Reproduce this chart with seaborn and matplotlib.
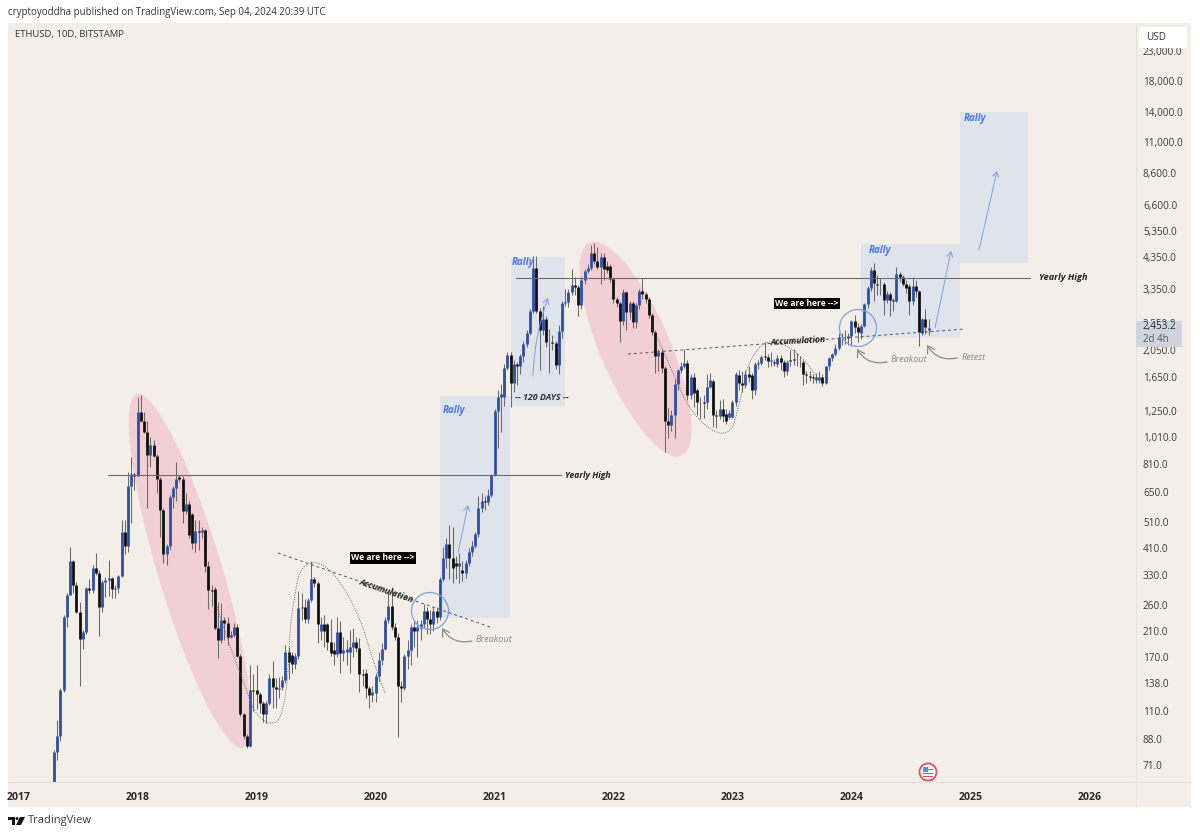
import matplotlib
matplotlib.use("Agg")
import matplotlib.pyplot as plt
from matplotlib.patches import Ellipse, Rectangle, Circle, FancyBboxPatch, Polygon
import numpy as np
import pandas as pd
import seaborn as sns

opens = [
55,79,90,130,236,281,371,305,245,197,
208,298,293,351,337,255,313,318,322,295,
298,328,470,417,680,750,740,1240,1155,1055,
875,945,870,722,561,393,417,620,670,730,
720,555,590,540,430,473,470,475,356,293,
295,216,195,230,225,200,204,218,172,107,
89.6,83,130,130,126,117,107,117,144,134,
131,134,141,177,173,161,172,254,256,232,
270,320,309,210,222,222,193,180,175,208,
176,177,177,185,192,183,148,150,132,125,
127,146,166,182,230,258,218,201,135,132,
171,180,218,210,215,222,248,232,222,248,
236,320,381,425,381,365,357,345,335,365,
398,420,460,570,600,595,630,745,1250,1395,
1400,1770,1970,1565,1830,1790,1950,2140,2350,2800,
3970,2800,2400,2620,2175,2190,2170,1815,2390,3000,
3020,3270,3460,3400,2950,3600,3870,3960,4500,4200,
4010,4350,4050,4050,3620,3082,3000,2580,3270,2790,
3000,2560,2940,3300,3230,3100,2720,2360,1955,2005,
1770,1150,1110,1205,1555,1735,1790,1848,1425,1637,
1480,1337,1340,1337,1519,1590,1205,1200,1270,1220,
1190,1190,1347,1670,1571,1545,1690,1670,1485,1820,
1840,1945,1925,1870,1850,1820,1910,1850,1730,1880,
1900,1860,1860,1860,1680,1660,1640,1610,1610,1637,
1571,1790,1910,1972,2070,2265,2280,2250,2290,2580,
2470,2345,2490,2960,3370,3900,3500,3480,3490,3060,
3210,3060,3040,3770,3680,3480,3420,3030,3420,3290,
2340,2620,2400]
closes = [
79,90,130,236,281,371,305,245,197,208,
298,293,351,337,255,313,318,322,295,298,
328,470,417,680,750,740,1240,1155,1055,875,
945,870,722,561,393,417,620,670,722,720,
555,590,458,430,473,470,475,356,293,290,
216,195,230,225,200,204,218,172,107,89.6,
83,130,129,126,117,107,117,144,134,131,
133,141,177,164,161,172,254,256,232,270,
320,309,222,222,210,193,176,175,208,176,
180,182,185,193,183,148,147,132,125,128,
146,166,182,230,258,218,201,135,132,171,
180,218,210,218,222,248,232,222,248,236,
320,381,425,381,350,357,365,335,365,398,
420,460,570,600,598,630,745,1250,1395,1430,
1770,1970,1565,1830,1790,1950,2140,2350,2800,3970,
2800,2400,2620,2175,2190,2170,1815,2390,3000,3020,
3270,3460,3400,2950,3600,3870,3960,4500,4200,4010,
4350,3950,3900,3620,3082,3000,2580,3270,2790,3000,
2560,2940,3300,3230,3080,2720,2360,1955,2005,1770,
1150,1110,1205,1555,1735,1790,1848,1425,1637,1440,
1337,1340,1335,1519,1600,1205,1195,1270,1195,1150,
1225,1347,1680,1571,1545,1690,1650,1485,1820,1840,
1925,1925,1870,1880,1840,1910,1850,1730,1850,1870,
1890,1850,1860,1680,1665,1650,1625,1637,1650,1571,
1790,1910,1972,2070,2265,2280,2270,2290,2580,2460,
2360,2490,2960,3370,3900,3520,3470,3490,3060,3210,
3060,3040,3770,3680,3480,3370,3030,3420,3290,2360,
2620,2470,2453]
highs = [
80,102,133,240,285,415,375,313,265,212,
300,320,360,395,345,318,325,375,325,305,
332,517,517,760,860,755,1400,1420,1240,1155,
1010,990,880,730,570,425,630,680,827,745,
735,640,600,545,515,515,487,480,370,305,
300,265,263,235,235,210,225,222,175,108,
91,159,149,160,128,119,119,148,165,144,
145,146,188,185,178,176,290,285,272,275,
370,325,315,235,240,225,232,193,235,228,
200,195,212,215,200,198,155,155,135,135,
150,178,190,235,290,300,225,206,140,175,
195,222,228,230,230,262,255,250,255,255,
325,415,445,495,488,385,395,370,375,410,
435,470,625,640,625,665,750,1265,1480,1550,
1830,2020,2020,1880,1860,1985,2200,2400,2850,4370,
4370,2880,2910,2700,2420,2300,2200,2500,3050,3343,
3350,3950,3700,3460,3700,3950,4100,4800,4850,4700,
4500,4500,4200,4100,3650,3150,3050,3350,3300,3050,
3050,3000,3350,3650,3280,3150,2750,2400,2060,2060,
1800,1280,1260,1620,1760,1850,2054,1880,1680,1700,
1500,1400,1420,1680,1695,1620,1260,1360,1370,1270,
1260,1360,1710,1740,1720,1740,1790,1700,1860,1890,
1960,2175,1980,2020,1900,1960,1970,1880,1890,2040,
2054,2000,1950,1880,1720,1720,1690,1700,1730,1680,
1800,1930,2000,2140,2340,2340,2400,2340,2600,2720,
2550,2520,3000,3420,3990,4130,3750,3650,3560,3300,
3270,3120,3990,3850,3750,3600,3500,3700,3600,3330,
2640,2842,2620]
lows = [
50,74,86,128,217,281,285,243,135,181,
205,285,285,330,202,245,276,280,274,274,
285,325,393,398,505,659,735,1140,1045,570,
790,860,640,450,365,360,405,570,600,700,
505,540,445,408,400,405,447,340,251,258,
212,169,190,195,187,198,200,170,106,88,
81.5,82,110,112,108,101,100,115,113,113,
122,130,138,143,150,155,168,230,225,225,
265,300,190,195,185,180,172,160,170,150,
165,160,150,170,178,128,135,122,113,118,
118,140,160,180,225,212,195,89,118,130,
155,160,185,170,195,215,205,205,210,225,
230,315,350,320,310,320,310,315,322,355,
385,410,450,550,560,585,620,735,925,1050,
1295,1740,1290,1450,1545,1680,1850,2100,2300,2750,
2750,1740,2300,2100,1700,2050,1750,1680,2250,2910,
2900,3200,3200,2700,2860,3500,3800,3900,4100,3950,
3480,3600,3800,3550,3000,2900,2175,2500,2400,2630,
2450,2450,2850,3100,3000,2650,2300,1700,1720,1700,
893,1005,1060,1005,1480,1700,1770,1360,1380,1285,
1210,1170,1180,1270,1500,1092,1090,1170,1140,1120,
1170,1180,1300,1480,1450,1500,1580,1380,1420,1750,
1810,1880,1780,1800,1790,1780,1740,1640,1670,1800,
1810,1800,1780,1545,1570,1590,1560,1570,1560,1530,
1550,1740,1870,1950,2050,2130,2150,2130,2105,2350,
2190,2230,2460,2880,3300,3050,3180,3200,2720,2980,
2700,2800,3020,3550,3420,3250,2720,2950,3150,2110,
2300,2330,2300]

year_labels = ["2017", "2018", "2019", "2020", "2021", "2022", "2023", "2024", "2025", "2026"]
year_bars = [-11, 26, 63, 100, 137, 174, 211, 248, 285, 322]
price_ticks = [71, 88, 110, 138, 170, 210, 260, 330, 410, 510, 650, 810, 1010, 1250, 1650,
               2050, 2550, 3350, 4350, 5350, 6600, 8600, 11000, 14000, 18000, 23000]

BG = "#f3efe8"
BLUE = "#2f4fa6"
BLACK = "#111111"
WICK = "#6a6a6a"
RECT = "#dfe3ec"
PINK = "#f2cfd4"
LINE = "#6f6b66"
ARROW = "#7f9fe0"
GREY = "#8b8b8b"
FONT = "Open Sans"

sns.set_theme(style="white")
plt.rcParams["font.family"] = [FONT, "DejaVu Sans"]

fig = plt.figure(figsize=(12, 8.36), dpi=100, facecolor="white")


def pixel_axes(zorder):
    a = fig.add_axes([0, 0, 1, 1], zorder=zorder)
    a.set_xlim(0, 1200)
    a.set_ylim(836, 0)
    a.axis("off")
    a.patch.set_visible(False)
    return a


def smooth(points, steps=12):
    """Catmull-Rom curve through hand-placed drawing anchors."""
    p = np.array(points, dtype=float)
    p = np.vstack([p[0], p, p[-1]])
    out = []
    for i in range(1, len(p) - 2):
        for t in np.linspace(0, 1, steps, endpoint=False):
            out.append(0.5 * (2 * p[i] + (p[i + 1] - p[i - 1]) * t
                              + (2 * p[i - 1] - 5 * p[i] + 4 * p[i + 1] - p[i + 2]) * t ** 2
                              + (3 * p[i] - p[i - 1] - 3 * p[i + 1] + p[i + 2]) * t ** 3))
    out.append(p[-2])
    return np.array(out)


under = pixel_axes(0)
over = pixel_axes(2)

# pane and drawings behind the candles
under.add_patch(Rectangle((8, 23), 1183, 784, fc=BG, ec="none"))
under.plot([8, 1191], [782, 782], color="#e6e2da", lw=0.8)
under.plot([1136, 1136], [23, 807], color="#e6e2da", lw=0.8)
for x0, y0, x1, y1 in [(440, 396, 510, 618), (511, 257, 565, 406), (861, 244, 960, 338), (960, 112, 1028, 263)]:
    under.add_patch(Rectangle((x0, y0), x1 - x0, y1 - y0, fc=RECT, ec="none"))
under.add_patch(Ellipse((190, 571), 369, 64, angle=73.3, fc=PINK, ec="none"))
under.add_patch(Ellipse((635.5, 349), 232, 70, angle=66.7, fc=PINK, ec="none"))

# candles
ax = fig.add_axes([8 / 1200, 1 - 782 / 836, 1128 / 1200, 758 / 836], zorder=1)
ax.patch.set_visible(False)
ax.set_yscale("log")

idx = list(range(len(opens)))
wicks = pd.DataFrame({"bar": idx + idx, "price": lows + highs})
bodies = pd.DataFrame({
    "bar": idx + idx,
    "price": opens + closes,
    "dir": ["up" if c >= o else "down" for o, c in zip(opens, closes)] * 2,
})
sns.lineplot(data=wicks, x="bar", y="price", units="bar", estimator=None, sort=False,
             color=WICK, lw=0.75, ax=ax, legend=False, solid_capstyle="butt")
sns.lineplot(data=bodies, x="bar", y="price", units="bar", hue="dir", estimator=None, sort=False,
             palette={"up": BLUE, "down": BLACK}, lw=2.0, ax=ax, legend=False, solid_capstyle="butt")

ax.set_xlim(-14.3, 336.5)
ax.set_ylim(61.9, 28640)
ax.set_xlabel("")
ax.set_ylabel("")
ax.set_xticks(year_bars, year_labels)
ax.minorticks_off()
ax.yaxis.tick_right()
ax.set_yticks(price_ticks, [f"{p:,.1f}" for p in price_ticks])
ax.tick_params(axis="y", length=0, pad=5, labelsize=7.2, labelcolor="#3c3c3c")
ax.tick_params(axis="x", length=0, pad=7, labelsize=7.6, labelcolor="#2a2a2a")
for lab in ax.get_xticklabels():
    lab.set_fontweight("bold")
sns.despine(ax=ax, left=True, right=True, top=True, bottom=True)

# horizontal levels
for x0, x1, y in [(108, 561, 475), (516, 1030, 278)]:
    over.plot([x0, x1], [y, y], color=LINE, lw=0.8)

# dashed trend lines
over.plot([278, 493], [553, 628], color="#555555", lw=0.7, ls=(0, (3, 3)))
over.plot([628, 965], [354, 329], color="#555555", lw=0.7, ls=(0, (3, 3)))

# dotted arcs
arc_a = [(217, 607), (228, 640), (240, 673), (253, 707), (262, 719), (270, 723), (280, 717), (287, 683),
         (290, 633), (293, 607), (300, 573), (312, 563), (327, 568), (343, 587), (360, 620), (373, 660), (385, 693)]
arc_b = [(657, 337), (673, 373), (687, 403), (703, 423), (720, 433), (732, 427), (740, 400), (748, 367),
         (760, 347), (772, 342), (788, 347), (803, 359), (817, 377)]
for arc in (arc_a, arc_b):
    curve = smooth(arc)
    over.plot(curve[:, 0], curve[:, 1], color="#666666", lw=0.7, ls=(0, (1, 1.4)))

# circles
for c in [(430, 611), (858, 328)]:
    over.add_patch(Circle(c, 18.5, fc="none", ec=ARROW, lw=0.9))

# rally arrows
for p0, p1, rad in [((458, 553), (468, 505), 0), ((533, 376), (548, 298), -0.08),
                    ((935, 328), (951, 251), 0), ((979, 250), (997, 171), 0)]:
    over.annotate("", xy=p1, xytext=p0,
                  arrowprops=dict(arrowstyle="->,head_length=0.3,head_width=0.18", color=ARROW, lw=0.7,
                                  connectionstyle=f"arc3,rad={rad}", shrinkA=0, shrinkB=0))

# grey curved arrows
for p0, p1, rad in [((472, 641), (442, 628), -0.35), ((887, 362), (857, 349), -0.35), ((957, 358), (927, 345), -0.35)]:
    over.annotate("", xy=p1, xytext=p0,
                  arrowprops=dict(arrowstyle="->,head_length=0.4,head_width=0.25", color=GREY, lw=0.9,
                                  connectionstyle=f"arc3,rad={rad}", shrinkA=0, shrinkB=0))

# text on the chart
kw_bi = dict(fontstyle="italic", fontweight="bold", va="center", ha="left")
for x, y in [(443, 410), (512, 263), (869, 251), (964, 119)]:
    over.text(x, y, "Rally", color="#4a78e0", fontsize=7.0, **kw_bi)
over.text(565, 475, "Yearly High", color="#222222", fontsize=6.2, **kw_bi)
over.text(1039, 278, "Yearly High", color="#222222", fontsize=6.6, **kw_bi)
over.text(515, 398, "-- 120 DAYS --", color="#333333", fontsize=6.4, **kw_bi)
over.text(386, 591, "Accumulation", color="#222222", fontsize=6.3, rotation=-19, rotation_mode="anchor",
          fontstyle="italic", fontweight="bold", ha="center", va="center")
over.text(798, 341, "Accumulation", color="#222222", fontsize=6.1, rotation=3, rotation_mode="anchor",
          fontstyle="italic", fontweight="bold", ha="center", va="center")
for x, y, s in [(476, 639, "Breakout"), (891, 360, "Breakout"), (962, 357, "Retest")]:
    over.text(x, y, s, color="#8a8a8a", fontsize=6.6, fontstyle="italic", va="center", ha="left")
for x0, y0, x1, y1 in [(350, 552, 416, 564), (774, 298, 840, 309)]:
    over.add_patch(Rectangle((x0, y0), x1 - x0, y1 - y0, fc="#000000", ec="none"))
    over.text((x0 + x1) / 2, (y0 + y1) / 2, "We are here -->", color="white", fontsize=6.1,
              fontweight="bold", ha="center", va="center")

# price label and currency box
over.add_patch(Rectangle((1136, 321), 46, 26, fc="#cfd4df", ec="none"))
over.text(1143, 327, "2,453.2", color="#2a2a2a", fontsize=7.2, va="center", ha="left")
over.text(1143, 339, "2d 4h", color="#555555", fontsize=7.0, va="center", ha="left")
over.add_patch(FancyBboxPatch((1141, 29), 44, 17, boxstyle="round,pad=2,rounding_size=3", fc="white", ec="none"))
over.text(1146, 37, "USD", color="#333333", fontsize=7.2, va="center", ha="left")

# header and footer
over.text(8, 13, "cryptoyoddha published on TradingView.com, Sep 04, 2024 20:39 UTC",
          color="#333333", fontsize=7.0, va="center", ha="left")
over.text(15, 35, "ETHUSD, 10D, BITSTAMP", color="#333333", fontsize=6.8, va="center", ha="left")
over.text(28, 821, "TradingView", color="#3a3a3a", fontsize=8, va="center", ha="left")
over.add_patch(Polygon([(8, 817), (15, 817), (15, 825), (12, 825), (12, 820), (8, 820)], fc="#111111", ec="none"))
over.add_patch(Circle((17, 818.6), 1.5, fc="#111111", ec="none"))
over.add_patch(Polygon([(20, 817), (25, 817), (21, 825), (16, 825)], fc="#111111", ec="none"))

# flag event marker
over.add_patch(Circle((928, 772), 8.5, fc="white", ec="#e2505f", lw=1.3))
over.add_patch(Rectangle((923, 767), 5, 5, fc="#5b8fe0", ec="none"))
for yy in (769, 773, 776):
    over.add_patch(Rectangle((928 if yy < 772 else 923, yy), 5 if yy < 772 else 10, 1.4, fc="#e2505f", ec="none"))

fig.savefig("out.png", dpi=100, facecolor="white")
